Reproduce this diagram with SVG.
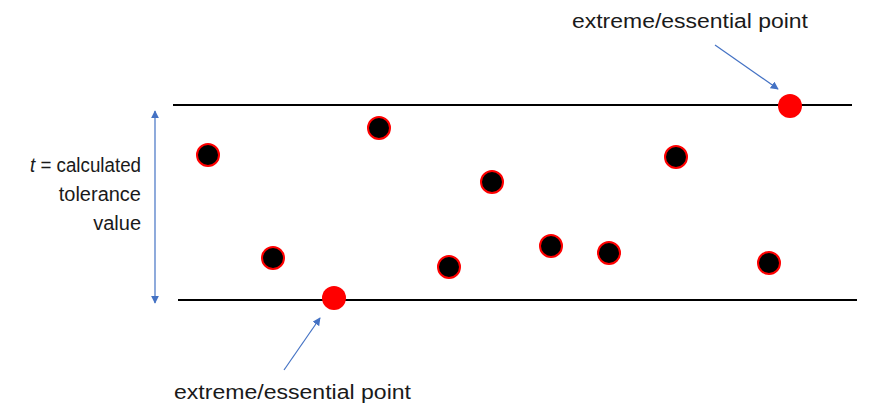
<svg xmlns="http://www.w3.org/2000/svg" width="875" height="413" viewBox="0 0 875 413">
<style>
.lbl{font-family:"Liberation Sans","DejaVu Sans",sans-serif;font-size:20px;fill:#1a1a1a}
.dot{fill:#000;stroke:#f00;stroke-width:2}
.ext{fill:#f00}
.bound{stroke:#000;stroke-width:2}
.conn{stroke:#4472C4;stroke-width:1.2;fill:none}
</style>
<defs>
<marker id="ah" viewBox="0 0 10 10" refX="9" refY="5" markerWidth="8" markerHeight="8" orient="auto-start-reverse" markerUnits="userSpaceOnUse">
<path d="M0,0 L10,5 L0,10 z" fill="#4472C4"/>
</marker>
</defs>
<rect width="875" height="413" fill="#fff"/>
<g id="bounds">
<line class="bound" x1="173" y1="105" x2="852" y2="105"/>
<line class="bound" x1="178" y1="300" x2="857" y2="300"/>
</g>
<g id="connectors">
<line class="conn" x1="155" y1="111" x2="155" y2="303" marker-start="url(#ah)" marker-end="url(#ah)"/>
<line class="conn" x1="715" y1="45" x2="778" y2="89" marker-end="url(#ah)"/>
<line class="conn" x1="284" y1="370" x2="320" y2="318" marker-end="url(#ah)"/>
</g>
<g id="points">
<circle class="dot" cx="208" cy="155" r="11"/>
<circle class="dot" cx="273" cy="258" r="11"/>
<circle class="dot" cx="379" cy="128" r="11"/>
<circle class="dot" cx="449" cy="267" r="11"/>
<circle class="dot" cx="492" cy="182" r="11"/>
<circle class="dot" cx="551" cy="246" r="11"/>
<circle class="dot" cx="609" cy="253" r="11"/>
<circle class="dot" cx="676" cy="157" r="11"/>
<circle class="dot" cx="769" cy="263" r="11"/>
</g>
<g id="extreme-top"><circle class="ext" cx="790" cy="106" r="12"/></g>
<g id="extreme-bottom"><circle class="ext" cx="334" cy="298" r="12"/></g>
<g id="label-top"><text class="lbl" x="572" y="28" textLength="236" lengthAdjust="spacingAndGlyphs">extreme/essential point</text></g>
<g id="label-bottom"><text class="lbl" x="174" y="399" textLength="237" lengthAdjust="spacingAndGlyphs">extreme/essential point</text></g>
<g id="label-t">
<text class="lbl" x="141" y="172" text-anchor="end" textLength="111" lengthAdjust="spacingAndGlyphs"><tspan font-style="italic">t</tspan> = calculated</text>
<text class="lbl" x="141" y="201" text-anchor="end">tolerance</text>
<text class="lbl" x="141" y="230" text-anchor="end">value</text>
</g>
</svg>
